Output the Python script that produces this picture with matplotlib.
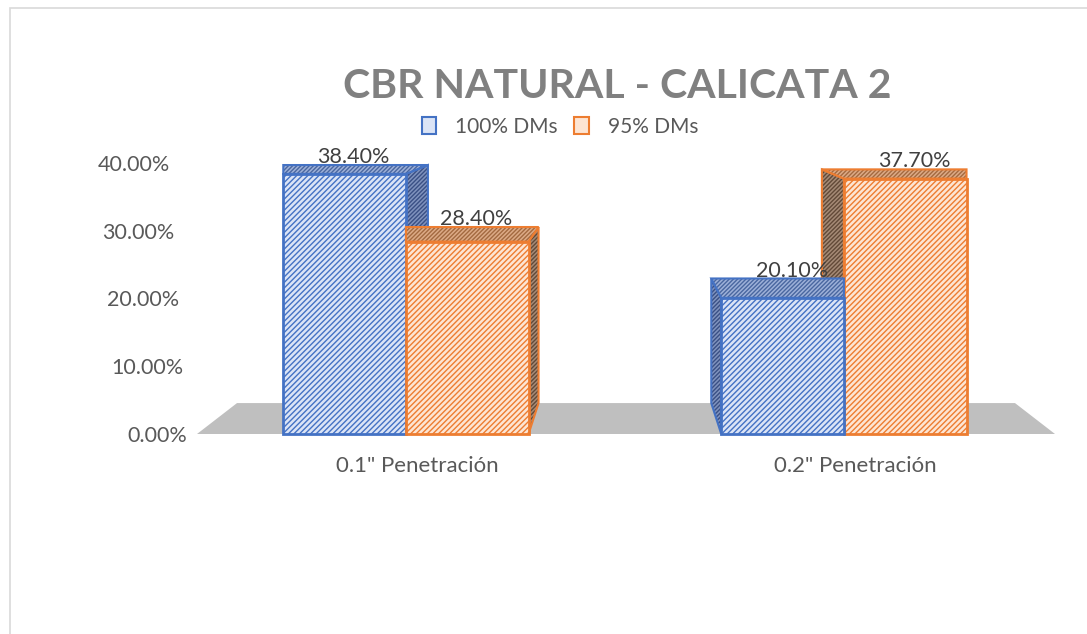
import matplotlib
matplotlib.use('Agg')
import matplotlib.pyplot as plt
from matplotlib.patches import Polygon, Patch, Rectangle
from matplotlib.transforms import ScaledTranslation

# data
categories = ['0.1" Penetración', '0.2" Penetración']
series_names = ['100% DMs', '95% DMs']
dms_100 = [0.384, 0.201]
dms_95 = [0.284, 0.377]
y_ticks = [0.0, 0.1, 0.2, 0.3, 0.4]

# style
edge_cols = ['#4472c4', '#ed7d31']
front_cols = ['#dbe4f6', '#fde5d3']
side_cols = ['#7f92bd', '#a58a76']
side_hatch = ['#3a5085', '#624a38']
top_cols = ['#9db0d8', '#dcaa86']
top_hatch = ['#4a67a0', '#a36a40']
bar_w = 0.28
depth_outer, depth_inner = 22, 10     # px sideways shift of the back face
vp_k, vp_v = 0.085, 0.537             # vertical perspective

plt.rcParams['hatch.linewidth'] = 1.0
plt.rcParams['font.family'] = ['Lato', 'DejaVu Sans']

fig = plt.figure(figsize=(10.87, 6.34), dpi=100)
ax = fig.add_axes([197 / 1087, 200 / 634, (1055 - 197) / 1087, 271 / 634])
ax.set_xlim(-0.477, 1.482)
ax.set_ylim(0, 0.40)
for s in ax.spines.values():
    s.set_visible(False)

# frame around chart area
fig.patches.append(Rectangle((10 / 1087, -0.1), 1.2, 1.1 - 8 / 634, transform=fig.transFigure,
                             fill=False, edgecolor='#d9d9d9', lw=1.2))

x0, y0 = ax.transData.transform((0, 0))
x1, y1 = ax.transData.transform((1, 0.4))
px_x = 1 / (x1 - x0)


def dy(v):
    return vp_k * (vp_v - v)


# floor
xl, xr = ax.get_xlim()
inset = 40 * px_x
ax.add_patch(Polygon([(xl, 0), (xr, 0), (xr - inset, dy(0)), (xl + inset, dy(0))],
                     closed=True, facecolor='#bfbfbf', edgecolor='none', zorder=1))

values = [dms_100, dms_95]
n = 0
for gi in range(len(categories)):
    left_group = gi == 0
    order = [0, 1] if left_group else [1, 0]
    for si in order:
        v = values[si][gi]
        xc = gi + (-bar_w / 2 if si == 0 else bar_w / 2)
        a, b = xc - bar_w / 2, xc + bar_w / 2
        outer = (si == 0) == left_group
        d = (depth_outer if outer else depth_inner) * px_x
        dl, dr = (0, d) if left_group else (-d, 0)
        z = 3 + n * 3
        n += 1
        if left_group:
            side = [(b, 0), (b, v), (b + dr, v + dy(v)), (b + dr, dy(0))]
        else:
            side = [(a, 0), (a, v), (a + dl, v + dy(v)), (a + dl, dy(0))]
        ax.add_patch(Polygon(side, closed=True, facecolor=side_cols[si], edgecolor=side_hatch[si],
                             hatch='////////', lw=0, zorder=z, clip_on=False))
        ax.add_patch(Polygon(side, closed=True, fill=False, edgecolor=edge_cols[si], lw=1.5,
                             zorder=z, clip_on=False))
        top = [(a, v), (b, v), (b + dr, v + dy(v)), (a + dl, v + dy(v))]
        ax.add_patch(Polygon(top, closed=True, facecolor=top_cols[si], edgecolor=top_hatch[si],
                             hatch='////////', lw=0, zorder=z + 1, clip_on=False))
        ax.add_patch(Polygon(top, closed=True, fill=False, edgecolor=edge_cols[si], lw=1.5,
                             zorder=z + 1, clip_on=False))
        ax.bar(xc, v, width=bar_w, color=front_cols[si], edgecolor=edge_cols[si], hatch='//////',
               lw=0, zorder=z + 2, clip_on=False)
        ax.bar(xc, v, width=bar_w, fill=False, edgecolor=edge_cols[si], lw=2,
               zorder=z + 2, clip_on=False)
        ax.text(xc + 9 * px_x, v + dy(v) - 0.003, f'{v * 100:.2f}%', ha='center', va='bottom',
                fontsize=15.5, color='#404040', zorder=40)

ax.set_xticks(range(len(categories)))
ax.set_xticklabels(categories, fontsize=16, color='#595959')
ax.set_yticks(y_ticks)
ax.set_yticklabels([f'{t * 100:.2f}%' for t in y_ticks], fontsize=15.5, color='#595959')
ax.tick_params(axis='x', length=0, pad=16)
ax.tick_params(axis='y', length=0, pad=7)
for lab in ax.get_xticklabels():
    lab.set_transform(lab.get_transform() + ScaledTranslation(0.11, 0, fig.dpi_scale_trans))
for t, lab in zip(y_ticks, ax.get_yticklabels()):
    lab.set_transform(lab.get_transform() + ScaledTranslation(-0.17 * t / 0.4, 0, fig.dpi_scale_trans))

fig.text(0.568, 0.863, 'CBR NATURAL - CALICATA 2', ha='center', va='center',
         fontsize=29.5, fontweight='bold', color='#808080')

handles = [Patch(facecolor=front_cols[i], edgecolor=edge_cols[i], lw=1.5) for i in range(2)]
fig.legend(handles, series_names, loc='center', bbox_to_anchor=(0.515, 0.80), ncol=2, frameon=False,
           fontsize=15, labelcolor='#595959', handlelength=0.7, handleheight=0.9,
           handletextpad=0.9, columnspacing=0.8)

fig.savefig('out.png', dpi=100, facecolor='white')
